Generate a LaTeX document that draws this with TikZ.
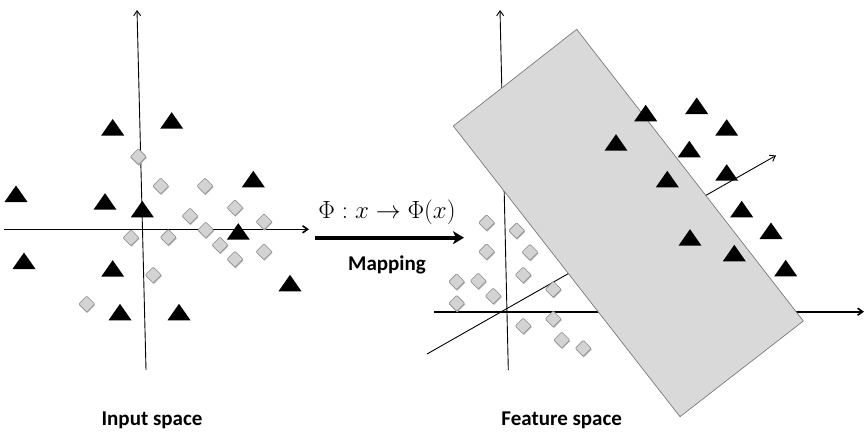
\documentclass[tikz,border=0pt]{standalone}
\usepackage{fontspec}
\setmainfont{Carlito}
\usetikzlibrary{arrows.meta}
\definecolor{diafill}{HTML}{D3D3D3}
\definecolor{diaedge}{HTML}{8C8C8C}
\definecolor{diashadow}{HTML}{B0B0B0}
\definecolor{planefill}{HTML}{D9D9D9}
\definecolor{planeedge}{HTML}{7A7A7A}
\tikzset{
  axisthin/.style={line width=0.9pt, -{Straight Barb[length=5pt,width=7pt]}},
  axisthick/.style={line width=1.6pt, -{Straight Barb[length=5pt,width=7pt]}},
  maparrow/.style={line width=3.6pt, -{Stealth[length=11pt,width=13pt,inset=3pt]}},
  tri/.pic={\fill[black] (-11.5,8) -- (11.5,8) -- (0,-8.5) -- cycle;},
  dia/.pic={
    \fill[diashadow] (-7.5,1) -- (0.5,-7) -- (8.5,1) -- (0.5,9) -- cycle;
    \filldraw[fill=diafill, draw=diaedge, line width=0.6pt, rounded corners=1pt]
      (-8,0) -- (0,-8) -- (8,0) -- (0,8) -- cycle;},
  label/.style={font=\fontsize{21}{25}\selectfont\bfseries, inner sep=0pt}
}
\begin{document}
\begin{tikzpicture}[x=1pt,y=-1pt]
\useasboundingbox (0,0) rectangle (867,432);
% ---------- left panel axes ----------
\coordinate (lvb) at (146,370);
\coordinate (lvt) at (137,10);
\coordinate (lhl) at (4,229.3);
\coordinate (lhr) at (309,229.3);
\draw[axisthin] (lvb) -- (lvt);
\draw[axisthick] (lhl) -- (lhr);
% left triangles
\foreach \x/\y in {112.7/127.5, 171.7/120.7, 16/194, 105/201.7, 142.3/209.3, 253.3/179.3,
  238.3/231.7, 24/261, 112.7/268.7, 290/283.3, 120/312.3, 179/312.3}
  \pic at (\x,\y) {tri};
% left diamonds
\foreach \x/\y in {138.3/156.7, 160.7/186, 205/186, 235/207.7, 190/216, 264/221.7,
  205.7/230, 131/237.7, 168.3/237.3, 220/245, 264/251.7, 235/259.3, 153.3/275, 86.7/304}
  \pic at (\x,\y) {dia};
\node[label] (inlab) at (152,420) {Input space};
% ---------- mapping ----------
\coordinate (ms) at (315,237.7);
\coordinate (me) at (464,237.7);
\draw[maparrow] (ms) -- (me);
\node[inner sep=0pt, font=\fontsize{25.5}{30}\selectfont] (phi) at (387,212) {$\Phi : x \rightarrow \Phi(x)$};
\node[label] (maplab) at (387,265) {Mapping};
% ---------- right panel axes ----------
\coordinate (rvb) at (508.3,370);
\coordinate (rvt) at (500,10);
\coordinate (rhl) at (434,311.7);
\coordinate (rhr) at (864,311.7);
\coordinate (rdb) at (427,354);
\coordinate (rdt) at (776,155.5);
\draw[axisthin] (rvb) -- (rvt);
\draw[axisthick] (rhl) -- (rhr);
\draw[axisthin] (rdb) -- (rdt);
% separating plane
\coordinate (pt) at (576.7,29.3);
\coordinate (pl) at (453.3,126);
\coordinate (pb) at (680,416.7);
\coordinate (pr) at (803.3,321);
\filldraw[fill=planefill, draw=planeedge, line width=0.7pt] (pt) -- (pl) -- (pb) -- (pr) -- cycle;
% right triangles
\foreach \x/\y in {645.7/113.3, 696.7/106, 726.7/127.7, 616/142.7, 689.3/149.3, 726.7/172.7,
  667.3/179.3, 741.7/209.3, 771/231, 690/237.7, 734.3/253.3, 785.7/268.3}
  \pic at (\x,\y) {tri};
% right diamonds
\foreach \x/\y in {486.7/222.7, 516.7/230.7, 486.7/251.7, 530/252.3, 456.7/281.7, 478.3/281,
  523.3/275, 553.3/289.3, 493.3/296, 456.7/303.3, 523.3/326, 553.3/319, 561.7/340, 583.3/348.3}
  \pic at (\x,\y) {dia};
\node[label] (felab) at (561.7,420) {Feature space};
\end{tikzpicture}
\end{document}
